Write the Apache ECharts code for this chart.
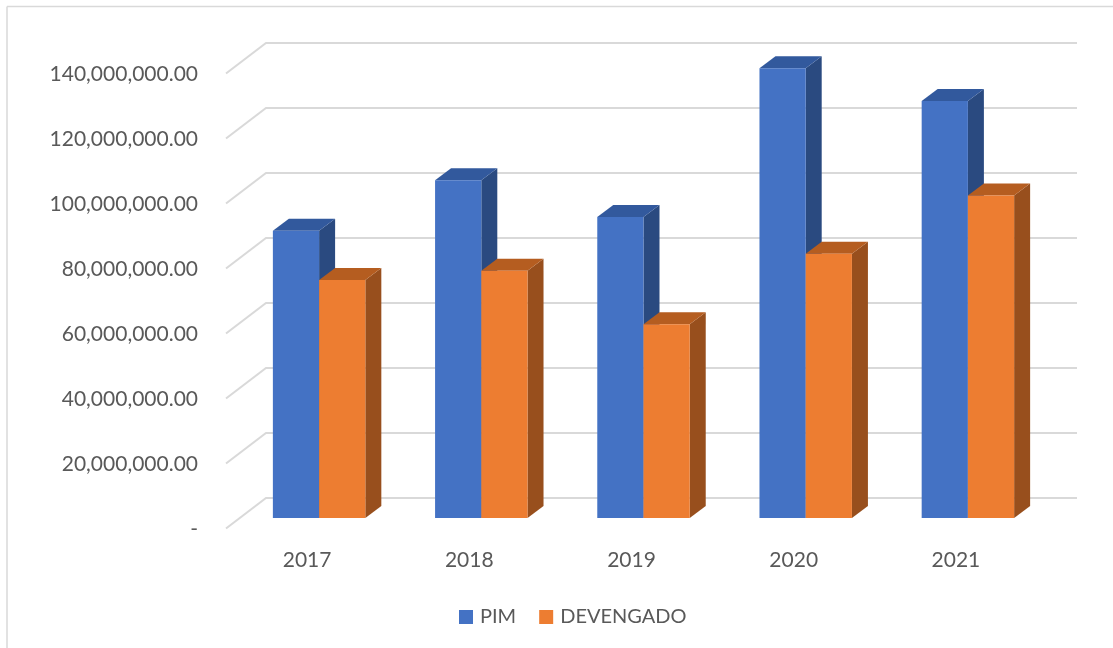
<!DOCTYPE html>
<html>
<head>
<meta charset="utf-8">
<script src="https://cdn.jsdelivr.net/npm/echarts@6/dist/echarts.min.js"></script>
<style>
html,body{margin:0;padding:0;background:#fff;}
#chart{width:1113px;height:648px;}
</style>
</head>
<body>
<div id="chart"></div>
<script>
// ---- data ----
const categories = ['2017', '2018', '2019', '2020', '2021'];
const pimValues = [88400000, 103900000, 92600000, 138400000, 128300000];
const devengadoValues = [73200000, 76100000, 59600000, 81300000, 99200000];
const tickValues = [0, 20000000, 40000000, 60000000, 80000000, 100000000, 120000000, 140000000];
const seriesNames = ['PIM', 'DEVENGADO'];

// ---- styles ----
const FONT = 'Lato, "Liberation Sans", Arial, sans-serif';
const TEXT_COLOR = '#595959';
const GRID_COLOR = '#d9d9d9';
const BAR_RATIO = 0.285;
const DEPTH_DX = 16, DEPTH_DY = -12;
const palettes = [
  { front: '#4472C4', top: '#32599D', side: '#2A4A80' },
  { front: '#ED7D31', top: '#B55D20', side: '#984F1D' }
];

function fmt(v) {
  if (v === 0) return '-';
  return v.toLocaleString('en-US', { minimumFractionDigits: 2, maximumFractionDigits: 2 });
}

function barRenderer(idx) {
  const pal = palettes[idx];
  return function (params, api) {
    const cat = api.value(0), val = api.value(1);
    const top = api.coord([cat, val]);
    const base = api.coord([cat, 0]);
    const band = api.size([1, 0])[0];
    const bw = band * BAR_RATIO;
    const x0 = top[0] - bw + idx * bw;
    const x1 = x0 + bw;
    const yT = top[1], yB = base[1];
    return {
      type: 'group',
      children: [
        { type: 'polygon', shape: { points: [[x1, yT], [x1 + DEPTH_DX, yT + DEPTH_DY], [x1 + DEPTH_DX, yB + DEPTH_DY], [x1, yB]] }, style: { fill: pal.side } },
        { type: 'polygon', shape: { points: [[x0, yT], [x1, yT], [x1 + DEPTH_DX, yT + DEPTH_DY], [x0 + DEPTH_DX, yT + DEPTH_DY]] }, style: { fill: pal.top } },
        { type: 'rect', shape: { x: x0, y: yT, width: bw, height: yB - yT }, style: { fill: pal.front } }
      ]
    };
  };
}

// back-wall gridline + floor diagonal + front-edge label for each tick
function gridRenderer(params, api) {
  const v = api.value(1);
  const y = api.coord([0, v])[1];
  const cs = params.coordSys;
  return {
    type: 'group',
    children: [
      {
        type: 'polyline',
        shape: { points: [[cs.x - 12, y + 10.5], [cs.x + 28, y - 20], [cs.x + cs.width + 28, y - 20]] },
        style: { stroke: GRID_COLOR, lineWidth: 2, fill: null }
      },
      {
        type: 'text',
        x: cs.x - 40, y: y + 11.5,
        style: { text: fmt(v), font: '21px ' + FONT, fill: TEXT_COLOR, align: 'right', verticalAlign: 'middle' }
      }
    ]
  };
}

const chart = echarts.init(document.getElementById('chart'), null, { renderer: 'canvas' });
chart.setOption({
  backgroundColor: '#ffffff',
  animation: false,
  textStyle: { fontFamily: FONT },
  grid: { left: 238, right: 64, top: 63, bottom: 130, containLabel: false },
  xAxis: {
    type: 'category',
    data: categories,
    axisLine: { show: false },
    axisTick: { show: false },
    splitLine: { show: false },
    axisLabel: {
      fontFamily: FONT, fontSize: 21, color: TEXT_COLOR,
      margin: 30, lineHeight: 24, padding: [0, 24, 0, 0]
    }
  },
  yAxis: {
    type: 'value',
    min: 0, max: 140000000, interval: 20000000,
    axisLine: { show: false },
    axisTick: { show: false },
    splitLine: { show: false },
    axisLabel: { show: false }
  },
  legend: {
    data: seriesNames,
    left: 454, top: 602,
    icon: 'rect', itemWidth: 14, itemHeight: 14, itemGap: 23,
    textStyle: { fontFamily: FONT, fontSize: 20, color: TEXT_COLOR, padding: [0, 0, 0, 2] }
  },
  graphic: [
    { type: 'line', shape: { x1: 7, y1: 6.5, x2: 1113, y2: 6.5 }, style: { stroke: '#d9d9d9', lineWidth: 1.5 }, silent: true },
    { type: 'line', shape: { x1: 7, y1: 6.5, x2: 7, y2: 648 }, style: { stroke: '#d9d9d9', lineWidth: 1.5 }, silent: true },
    { type: 'text', x: -2, y: -11, style: { text: 'p', font: 'italic bold 21px "Liberation Serif", serif', fill: '#000', verticalAlign: 'middle' }, silent: true },
    { type: 'text', x: 142, y: -11, style: { text: 'y', font: 'italic 21px "Liberation Serif", serif', fill: '#000', verticalAlign: 'middle' }, silent: true },
    { type: 'text', x: 268, y: -11, style: { text: 'y),', font: 'italic 21px "Liberation Serif", serif', fill: '#000', verticalAlign: 'middle' }, silent: true }
  ],
  series: [
    {
      type: 'custom', name: '__grid', silent: true, z: 1,
      renderItem: gridRenderer,
      data: tickValues.map(v => [0, v]),
      encode: { x: 0, y: 1 }
    },
    {
      type: 'custom', name: seriesNames[0], z: 2,
      itemStyle: { color: palettes[0].front },
      renderItem: barRenderer(0),
      data: pimValues.map((v, i) => [i, v]),
      encode: { x: 0, y: 1 }
    },
    {
      type: 'custom', name: seriesNames[1], z: 3,
      itemStyle: { color: palettes[1].front },
      renderItem: barRenderer(1),
      data: devengadoValues.map((v, i) => [i, v]),
      encode: { x: 0, y: 1 }
    }
  ]
});
</script>
</body>
</html>
